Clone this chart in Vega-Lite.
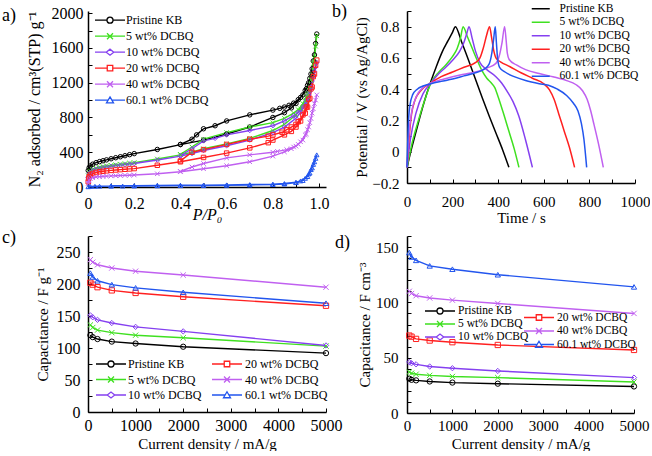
{
"$schema": "https://vega.github.io/schema/vega-lite/v6.json",
"padding": {"left": 2, "top": 2, "right": 0, "bottom": 0},
"config": {
  "font": "Liberation Serif, Times New Roman, serif",
  "view": {"stroke": null},
  "style": {
    "guide-label": {"font": "Liberation Serif, Times New Roman, serif", "fill": "#000", "fontWeight": 400},
    "guide-title": {"font": "Liberation Serif, Times New Roman, serif", "fill": "#000", "fontWeight": 400},
    "group-title": {"font": "Liberation Serif, Times New Roman, serif", "fill": "#000", "fontWeight": 400}
  },
  "axis": {"grid": false, "domainColor": "#000", "domainWidth": 1.5, "tickColor": "#000", "tickSize": -4, "tickWidth": 1, "labelColor": "#000", "titleColor": "#000", "labelFont": "Liberation Serif, Times New Roman, serif", "titleFont": "Liberation Serif, Times New Roman, serif", "titleFontWeight": 400, "labelFontWeight": 400, "labelFlush": false, "labelOverlap": false, "titleBaseline": "alphabetic"},
  "legend": {"labelFont": "Liberation Serif, Times New Roman, serif", "labelFontSize": 12, "labelColor": "#000", "labelFontWeight": 400, "padding": 0},
  "title": {"font": "Liberation Serif, Times New Roman, serif", "fontSize": 18, "fontWeight": 400, "anchor": "start", "frame": "group", "baseline": "alphabetic", "color": "#000"}
},
"datasets": {
"iso": [
{"s":"Pristine KB","p":0.001,"v":190,"o":1},{"s":"Pristine KB","p":0.005,"v":222,"o":2},{"s":"Pristine KB","p":0.01,"v":242,"o":3},{"s":"Pristine KB","p":0.02,"v":262,"o":4},{"s":"Pristine KB","p":0.035,"v":280,"o":5},{"s":"Pristine KB","p":0.05,"v":292,"o":6},{"s":"Pristine KB","p":0.065,"v":302,"o":7},{"s":"Pristine KB","p":0.08,"v":312,"o":8},{"s":"Pristine KB","p":0.1,"v":325,"o":9},{"s":"Pristine KB","p":0.12,"v":337,"o":10},{"s":"Pristine KB","p":0.14,"v":348,"o":11},{"s":"Pristine KB","p":0.16,"v":360,"o":12},{"s":"Pristine KB","p":0.18,"v":372,"o":13},{"s":"Pristine KB","p":0.2,"v":384,"o":14},{"s":"Pristine KB","p":0.3,"v":432,"o":15},{"s":"Pristine KB","p":0.4,"v":488,"o":16},{"s":"Pristine KB","p":0.5,"v":540,"o":17},{"s":"Pristine KB","p":0.6,"v":610,"o":18},{"s":"Pristine KB","p":0.7,"v":690,"o":19},{"s":"Pristine KB","p":0.8,"v":800,"o":20},{"s":"Pristine KB","p":0.85,"v":855,"o":21},{"s":"Pristine KB","p":0.88,"v":910,"o":22},{"s":"Pristine KB","p":0.9,"v":960,"o":23},{"s":"Pristine KB","p":0.92,"v":1030,"o":24},{"s":"Pristine KB","p":0.94,"v":1110,"o":25},{"s":"Pristine KB","p":0.95,"v":1170,"o":26},{"s":"Pristine KB","p":0.96,"v":1250,"o":27},{"s":"Pristine KB","p":0.97,"v":1360,"o":28},{"s":"Pristine KB","p":0.98,"v":1520,"o":29},{"s":"Pristine KB","p":0.99,"v":1760,"o":30},
{"s":"Pristine KB","p":0.985,"v":1650,"o":31},{"s":"Pristine KB","p":0.975,"v":1450,"o":32},{"s":"Pristine KB","p":0.965,"v":1300,"o":33},{"s":"Pristine KB","p":0.955,"v":1200,"o":34},{"s":"Pristine KB","p":0.945,"v":1130,"o":35},{"s":"Pristine KB","p":0.93,"v":1060,"o":36},{"s":"Pristine KB","p":0.91,"v":1005,"o":37},{"s":"Pristine KB","p":0.89,"v":965,"o":38},{"s":"Pristine KB","p":0.87,"v":940,"o":39},{"s":"Pristine KB","p":0.85,"v":920,"o":40},{"s":"Pristine KB","p":0.83,"v":905,"o":41},{"s":"Pristine KB","p":0.8,"v":885,"o":42},{"s":"Pristine KB","p":0.7,"v":830,"o":43},{"s":"Pristine KB","p":0.6,"v":760,"o":44},{"s":"Pristine KB","p":0.55,"v":705,"o":45},{"s":"Pristine KB","p":0.5,"v":670,"o":46},{"s":"Pristine KB","p":0.47,"v":600,"o":47},{"s":"Pristine KB","p":0.45,"v":550,"o":48},{"s":"Pristine KB","p":0.4,"v":490,"o":49},
{"s":"5 wt% DCBQ","p":0.001,"v":130,"o":1},{"s":"5 wt% DCBQ","p":0.005,"v":165,"o":2},{"s":"5 wt% DCBQ","p":0.01,"v":185,"o":3},{"s":"5 wt% DCBQ","p":0.02,"v":203,"o":4},{"s":"5 wt% DCBQ","p":0.035,"v":218,"o":5},{"s":"5 wt% DCBQ","p":0.05,"v":228,"o":6},{"s":"5 wt% DCBQ","p":0.065,"v":236,"o":7},{"s":"5 wt% DCBQ","p":0.08,"v":243,"o":8},{"s":"5 wt% DCBQ","p":0.1,"v":250,"o":9},{"s":"5 wt% DCBQ","p":0.12,"v":257,"o":10},{"s":"5 wt% DCBQ","p":0.14,"v":263,"o":11},{"s":"5 wt% DCBQ","p":0.16,"v":269,"o":12},{"s":"5 wt% DCBQ","p":0.18,"v":275,"o":13},{"s":"5 wt% DCBQ","p":0.2,"v":281,"o":14},{"s":"5 wt% DCBQ","p":0.3,"v":322,"o":15},{"s":"5 wt% DCBQ","p":0.4,"v":370,"o":16},{"s":"5 wt% DCBQ","p":0.45,"v":400,"o":17},{"s":"5 wt% DCBQ","p":0.5,"v":440,"o":18},{"s":"5 wt% DCBQ","p":0.6,"v":495,"o":19},{"s":"5 wt% DCBQ","p":0.7,"v":560,"o":20},{"s":"5 wt% DCBQ","p":0.8,"v":650,"o":21},{"s":"5 wt% DCBQ","p":0.85,"v":720,"o":22},{"s":"5 wt% DCBQ","p":0.9,"v":830,"o":23},{"s":"5 wt% DCBQ","p":0.92,"v":900,"o":24},{"s":"5 wt% DCBQ","p":0.94,"v":990,"o":25},{"s":"5 wt% DCBQ","p":0.95,"v":1060,"o":26},{"s":"5 wt% DCBQ","p":0.96,"v":1150,"o":27},{"s":"5 wt% DCBQ","p":0.97,"v":1300,"o":28},{"s":"5 wt% DCBQ","p":0.98,"v":1480,"o":29},{"s":"5 wt% DCBQ","p":0.99,"v":1740,"o":30},
{"s":"5 wt% DCBQ","p":0.985,"v":1620,"o":31},{"s":"5 wt% DCBQ","p":0.975,"v":1420,"o":32},{"s":"5 wt% DCBQ","p":0.965,"v":1230,"o":33},{"s":"5 wt% DCBQ","p":0.955,"v":1120,"o":34},{"s":"5 wt% DCBQ","p":0.945,"v":1040,"o":35},{"s":"5 wt% DCBQ","p":0.93,"v":960,"o":36},{"s":"5 wt% DCBQ","p":0.91,"v":890,"o":37},{"s":"5 wt% DCBQ","p":0.89,"v":850,"o":38},{"s":"5 wt% DCBQ","p":0.85,"v":790,"o":39},{"s":"5 wt% DCBQ","p":0.8,"v":740,"o":40},{"s":"5 wt% DCBQ","p":0.7,"v":690,"o":41},{"s":"5 wt% DCBQ","p":0.6,"v":625,"o":42},{"s":"5 wt% DCBQ","p":0.5,"v":550,"o":43},{"s":"5 wt% DCBQ","p":0.45,"v":460,"o":44},{"s":"5 wt% DCBQ","p":0.4,"v":375,"o":45},
{"s":"10 wt% DCBQ","p":0.001,"v":110,"o":1},{"s":"10 wt% DCBQ","p":0.005,"v":150,"o":2},{"s":"10 wt% DCBQ","p":0.01,"v":170,"o":3},{"s":"10 wt% DCBQ","p":0.02,"v":190,"o":4},{"s":"10 wt% DCBQ","p":0.035,"v":205,"o":5},{"s":"10 wt% DCBQ","p":0.05,"v":215,"o":6},{"s":"10 wt% DCBQ","p":0.065,"v":223,"o":7},{"s":"10 wt% DCBQ","p":0.08,"v":230,"o":8},{"s":"10 wt% DCBQ","p":0.1,"v":238,"o":9},{"s":"10 wt% DCBQ","p":0.12,"v":245,"o":10},{"s":"10 wt% DCBQ","p":0.14,"v":252,"o":11},{"s":"10 wt% DCBQ","p":0.16,"v":258,"o":12},{"s":"10 wt% DCBQ","p":0.18,"v":264,"o":13},{"s":"10 wt% DCBQ","p":0.2,"v":270,"o":14},{"s":"10 wt% DCBQ","p":0.3,"v":310,"o":15},{"s":"10 wt% DCBQ","p":0.4,"v":355,"o":16},{"s":"10 wt% DCBQ","p":0.45,"v":385,"o":17},{"s":"10 wt% DCBQ","p":0.5,"v":420,"o":18},{"s":"10 wt% DCBQ","p":0.6,"v":475,"o":19},{"s":"10 wt% DCBQ","p":0.7,"v":540,"o":20},{"s":"10 wt% DCBQ","p":0.8,"v":625,"o":21},{"s":"10 wt% DCBQ","p":0.85,"v":690,"o":22},{"s":"10 wt% DCBQ","p":0.9,"v":790,"o":23},{"s":"10 wt% DCBQ","p":0.92,"v":860,"o":24},{"s":"10 wt% DCBQ","p":0.94,"v":950,"o":25},{"s":"10 wt% DCBQ","p":0.95,"v":1020,"o":26},{"s":"10 wt% DCBQ","p":0.96,"v":1100,"o":27},{"s":"10 wt% DCBQ","p":0.97,"v":1220,"o":28},{"s":"10 wt% DCBQ","p":0.98,"v":1330,"o":29},{"s":"10 wt% DCBQ","p":0.99,"v":1430,"o":30},
{"s":"10 wt% DCBQ","p":0.985,"v":1380,"o":31},{"s":"10 wt% DCBQ","p":0.975,"v":1270,"o":32},{"s":"10 wt% DCBQ","p":0.965,"v":1150,"o":33},{"s":"10 wt% DCBQ","p":0.955,"v":1060,"o":34},{"s":"10 wt% DCBQ","p":0.945,"v":990,"o":35},{"s":"10 wt% DCBQ","p":0.93,"v":920,"o":36},{"s":"10 wt% DCBQ","p":0.91,"v":860,"o":37},{"s":"10 wt% DCBQ","p":0.89,"v":820,"o":38},{"s":"10 wt% DCBQ","p":0.85,"v":760,"o":39},{"s":"10 wt% DCBQ","p":0.8,"v":705,"o":40},{"s":"10 wt% DCBQ","p":0.7,"v":650,"o":41},{"s":"10 wt% DCBQ","p":0.6,"v":600,"o":42},{"s":"10 wt% DCBQ","p":0.55,"v":560,"o":43},{"s":"10 wt% DCBQ","p":0.5,"v":530,"o":44},{"s":"10 wt% DCBQ","p":0.45,"v":440,"o":45},{"s":"10 wt% DCBQ","p":0.4,"v":360,"o":46},
{"s":"20 wt% DCBQ","p":0.001,"v":60,"o":1},{"s":"20 wt% DCBQ","p":0.003,"v":100,"o":2},{"s":"20 wt% DCBQ","p":0.005,"v":118,"o":3},{"s":"20 wt% DCBQ","p":0.01,"v":138,"o":4},{"s":"20 wt% DCBQ","p":0.02,"v":155,"o":5},{"s":"20 wt% DCBQ","p":0.035,"v":167,"o":6},{"s":"20 wt% DCBQ","p":0.05,"v":175,"o":7},{"s":"20 wt% DCBQ","p":0.065,"v":181,"o":8},{"s":"20 wt% DCBQ","p":0.08,"v":186,"o":9},{"s":"20 wt% DCBQ","p":0.1,"v":191,"o":10},{"s":"20 wt% DCBQ","p":0.12,"v":196,"o":11},{"s":"20 wt% DCBQ","p":0.14,"v":200,"o":12},{"s":"20 wt% DCBQ","p":0.16,"v":204,"o":13},{"s":"20 wt% DCBQ","p":0.18,"v":208,"o":14},{"s":"20 wt% DCBQ","p":0.2,"v":212,"o":15},{"s":"20 wt% DCBQ","p":0.3,"v":250,"o":16},{"s":"20 wt% DCBQ","p":0.4,"v":290,"o":17},{"s":"20 wt% DCBQ","p":0.5,"v":340,"o":18},{"s":"20 wt% DCBQ","p":0.6,"v":390,"o":19},{"s":"20 wt% DCBQ","p":0.7,"v":450,"o":20},{"s":"20 wt% DCBQ","p":0.78,"v":510,"o":21},{"s":"20 wt% DCBQ","p":0.8,"v":540,"o":22},{"s":"20 wt% DCBQ","p":0.85,"v":600,"o":23},{"s":"20 wt% DCBQ","p":0.88,"v":640,"o":24},{"s":"20 wt% DCBQ","p":0.9,"v":690,"o":25},{"s":"20 wt% DCBQ","p":0.92,"v":760,"o":26},{"s":"20 wt% DCBQ","p":0.94,"v":850,"o":27},{"s":"20 wt% DCBQ","p":0.95,"v":920,"o":28},{"s":"20 wt% DCBQ","p":0.96,"v":1020,"o":29},{"s":"20 wt% DCBQ","p":0.97,"v":1150,"o":30},{"s":"20 wt% DCBQ","p":0.98,"v":1300,"o":31},{"s":"20 wt% DCBQ","p":0.99,"v":1460,"o":32},
{"s":"20 wt% DCBQ","p":0.985,"v":1400,"o":33},{"s":"20 wt% DCBQ","p":0.975,"v":1270,"o":34},{"s":"20 wt% DCBQ","p":0.965,"v":1130,"o":35},{"s":"20 wt% DCBQ","p":0.955,"v":1010,"o":36},{"s":"20 wt% DCBQ","p":0.945,"v":920,"o":37},{"s":"20 wt% DCBQ","p":0.93,"v":830,"o":38},{"s":"20 wt% DCBQ","p":0.91,"v":750,"o":39},{"s":"20 wt% DCBQ","p":0.9,"v":720,"o":40},{"s":"20 wt% DCBQ","p":0.88,"v":690,"o":41},{"s":"20 wt% DCBQ","p":0.86,"v":660,"o":42},{"s":"20 wt% DCBQ","p":0.84,"v":630,"o":43},{"s":"20 wt% DCBQ","p":0.8,"v":600,"o":44},{"s":"20 wt% DCBQ","p":0.78,"v":585,"o":45},{"s":"20 wt% DCBQ","p":0.7,"v":550,"o":46},{"s":"20 wt% DCBQ","p":0.6,"v":490,"o":47},{"s":"20 wt% DCBQ","p":0.5,"v":430,"o":48},{"s":"20 wt% DCBQ","p":0.45,"v":400,"o":49},{"s":"20 wt% DCBQ","p":0.4,"v":300,"o":50},
{"s":"40 wt% DCBQ","p":0.001,"v":40,"o":1},{"s":"40 wt% DCBQ","p":0.003,"v":70,"o":2},{"s":"40 wt% DCBQ","p":0.005,"v":82,"o":3},{"s":"40 wt% DCBQ","p":0.01,"v":97,"o":4},{"s":"40 wt% DCBQ","p":0.02,"v":108,"o":5},{"s":"40 wt% DCBQ","p":0.035,"v":115,"o":6},{"s":"40 wt% DCBQ","p":0.05,"v":119,"o":7},{"s":"40 wt% DCBQ","p":0.065,"v":122,"o":8},{"s":"40 wt% DCBQ","p":0.08,"v":125,"o":9},{"s":"40 wt% DCBQ","p":0.1,"v":128,"o":10},{"s":"40 wt% DCBQ","p":0.12,"v":130,"o":11},{"s":"40 wt% DCBQ","p":0.14,"v":132,"o":12},{"s":"40 wt% DCBQ","p":0.16,"v":134,"o":13},{"s":"40 wt% DCBQ","p":0.18,"v":136,"o":14},{"s":"40 wt% DCBQ","p":0.2,"v":138,"o":15},{"s":"40 wt% DCBQ","p":0.3,"v":152,"o":16},{"s":"40 wt% DCBQ","p":0.4,"v":175,"o":17},{"s":"40 wt% DCBQ","p":0.5,"v":210,"o":18},{"s":"40 wt% DCBQ","p":0.6,"v":245,"o":19},{"s":"40 wt% DCBQ","p":0.7,"v":290,"o":20},{"s":"40 wt% DCBQ","p":0.8,"v":355,"o":21},{"s":"40 wt% DCBQ","p":0.85,"v":405,"o":22},{"s":"40 wt% DCBQ","p":0.88,"v":440,"o":23},{"s":"40 wt% DCBQ","p":0.9,"v":470,"o":24},{"s":"40 wt% DCBQ","p":0.92,"v":520,"o":25},{"s":"40 wt% DCBQ","p":0.94,"v":600,"o":26},{"s":"40 wt% DCBQ","p":0.95,"v":660,"o":27},{"s":"40 wt% DCBQ","p":0.96,"v":740,"o":28},{"s":"40 wt% DCBQ","p":0.97,"v":850,"o":29},{"s":"40 wt% DCBQ","p":0.98,"v":960,"o":30},{"s":"40 wt% DCBQ","p":0.99,"v":1060,"o":31},
{"s":"40 wt% DCBQ","p":0.985,"v":1000,"o":32},{"s":"40 wt% DCBQ","p":0.975,"v":900,"o":33},{"s":"40 wt% DCBQ","p":0.965,"v":790,"o":34},{"s":"40 wt% DCBQ","p":0.955,"v":690,"o":35},{"s":"40 wt% DCBQ","p":0.945,"v":610,"o":36},{"s":"40 wt% DCBQ","p":0.93,"v":540,"o":37},{"s":"40 wt% DCBQ","p":0.91,"v":490,"o":38},{"s":"40 wt% DCBQ","p":0.89,"v":460,"o":39},{"s":"40 wt% DCBQ","p":0.86,"v":430,"o":40},{"s":"40 wt% DCBQ","p":0.82,"v":410,"o":41},{"s":"40 wt% DCBQ","p":0.8,"v":400,"o":42},{"s":"40 wt% DCBQ","p":0.7,"v":370,"o":43},{"s":"40 wt% DCBQ","p":0.6,"v":335,"o":44},{"s":"40 wt% DCBQ","p":0.5,"v":270,"o":45},{"s":"40 wt% DCBQ","p":0.45,"v":230,"o":46},{"s":"40 wt% DCBQ","p":0.4,"v":180,"o":47},
{"s":"60.1 wt% DCBQ","p":0.001,"v":3,"o":1},{"s":"60.1 wt% DCBQ","p":0.01,"v":6,"o":2},{"s":"60.1 wt% DCBQ","p":0.03,"v":8,"o":3},{"s":"60.1 wt% DCBQ","p":0.05,"v":9,"o":4},{"s":"60.1 wt% DCBQ","p":0.1,"v":10,"o":5},{"s":"60.1 wt% DCBQ","p":0.15,"v":11,"o":6},{"s":"60.1 wt% DCBQ","p":0.2,"v":12,"o":7},{"s":"60.1 wt% DCBQ","p":0.3,"v":14,"o":8},{"s":"60.1 wt% DCBQ","p":0.4,"v":16,"o":9},{"s":"60.1 wt% DCBQ","p":0.5,"v":18,"o":10},{"s":"60.1 wt% DCBQ","p":0.6,"v":20,"o":11},{"s":"60.1 wt% DCBQ","p":0.7,"v":23,"o":12},{"s":"60.1 wt% DCBQ","p":0.8,"v":28,"o":13},{"s":"60.1 wt% DCBQ","p":0.85,"v":34,"o":14},{"s":"60.1 wt% DCBQ","p":0.9,"v":50,"o":15},{"s":"60.1 wt% DCBQ","p":0.93,"v":75,"o":16},{"s":"60.1 wt% DCBQ","p":0.95,"v":120,"o":17},{"s":"60.1 wt% DCBQ","p":0.96,"v":160,"o":18},{"s":"60.1 wt% DCBQ","p":0.97,"v":220,"o":19},{"s":"60.1 wt% DCBQ","p":0.98,"v":290,"o":20},{"s":"60.1 wt% DCBQ","p":0.99,"v":370,"o":21},
{"s":"60.1 wt% DCBQ","p":0.985,"v":330,"o":22},{"s":"60.1 wt% DCBQ","p":0.975,"v":260,"o":23},{"s":"60.1 wt% DCBQ","p":0.965,"v":200,"o":24},{"s":"60.1 wt% DCBQ","p":0.955,"v":150,"o":25},{"s":"60.1 wt% DCBQ","p":0.94,"v":100,"o":26},{"s":"60.1 wt% DCBQ","p":0.92,"v":70,"o":27},{"s":"60.1 wt% DCBQ","p":0.9,"v":55,"o":28},{"s":"60.1 wt% DCBQ","p":0.85,"v":40,"o":29},{"s":"60.1 wt% DCBQ","p":0.8,"v":33,"o":30},{"s":"60.1 wt% DCBQ","p":0.7,"v":28,"o":31},{"s":"60.1 wt% DCBQ","p":0.6,"v":25,"o":32},{"s":"60.1 wt% DCBQ","p":0.5,"v":22,"o":33},{"s":"60.1 wt% DCBQ","p":0.4,"v":20,"o":34},{"s":"60.1 wt% DCBQ","p":0.3,"v":18,"o":35},{"s":"60.1 wt% DCBQ","p":0.2,"v":16,"o":36},{"s":"60.1 wt% DCBQ","p":0.1,"v":14,"o":37}
],
"gcd": [
{"s":"Pristine KB","t":0,"V":-0.1},{"s":"Pristine KB","t":20,"V":0.02},{"s":"Pristine KB","t":40,"V":0.13},{"s":"Pristine KB","t":60,"V":0.24},{"s":"Pristine KB","t":80,"V":0.34},{"s":"Pristine KB","t":105,"V":0.45},{"s":"Pristine KB","t":130,"V":0.55},{"s":"Pristine KB","t":155,"V":0.64},{"s":"Pristine KB","t":180,"V":0.71},{"s":"Pristine KB","t":200,"V":0.765},{"s":"Pristine KB","t":212,"V":0.8},{"s":"Pristine KB","t":240,"V":0.7},{"s":"Pristine KB","t":270,"V":0.585},{"s":"Pristine KB","t":300,"V":0.465},{"s":"Pristine KB","t":330,"V":0.345},{"s":"Pristine KB","t":360,"V":0.23},{"s":"Pristine KB","t":390,"V":0.12},{"s":"Pristine KB","t":420,"V":0.01},{"s":"Pristine KB","t":447,"V":-0.1},
{"s":"5 wt% DCBQ","t":0,"V":-0.1},{"s":"5 wt% DCBQ","t":20,"V":0.04},{"s":"5 wt% DCBQ","t":50,"V":0.2},{"s":"5 wt% DCBQ","t":80,"V":0.34},{"s":"5 wt% DCBQ","t":105,"V":0.44},{"s":"5 wt% DCBQ","t":140,"V":0.51},{"s":"5 wt% DCBQ","t":170,"V":0.555},{"s":"5 wt% DCBQ","t":200,"V":0.61},{"s":"5 wt% DCBQ","t":220,"V":0.66},{"s":"5 wt% DCBQ","t":235,"V":0.73},{"s":"5 wt% DCBQ","t":246,"V":0.8},{"s":"5 wt% DCBQ","t":265,"V":0.735},{"s":"5 wt% DCBQ","t":285,"V":0.665},{"s":"5 wt% DCBQ","t":305,"V":0.595},{"s":"5 wt% DCBQ","t":330,"V":0.515},{"s":"5 wt% DCBQ","t":350,"V":0.47},{"s":"5 wt% DCBQ","t":370,"V":0.44},{"s":"5 wt% DCBQ","t":385,"V":0.41},{"s":"5 wt% DCBQ","t":400,"V":0.35},{"s":"5 wt% DCBQ","t":420,"V":0.26},{"s":"5 wt% DCBQ","t":445,"V":0.14},{"s":"5 wt% DCBQ","t":470,"V":0.02},{"s":"5 wt% DCBQ","t":491,"V":-0.1},
{"s":"10 wt% DCBQ","t":0,"V":-0.1},{"s":"10 wt% DCBQ","t":15,"V":0.08},{"s":"10 wt% DCBQ","t":40,"V":0.25},{"s":"10 wt% DCBQ","t":70,"V":0.37},{"s":"10 wt% DCBQ","t":105,"V":0.44},{"s":"10 wt% DCBQ","t":140,"V":0.5},{"s":"10 wt% DCBQ","t":170,"V":0.54},{"s":"10 wt% DCBQ","t":200,"V":0.585},{"s":"10 wt% DCBQ","t":230,"V":0.64},{"s":"10 wt% DCBQ","t":250,"V":0.7},{"s":"10 wt% DCBQ","t":262,"V":0.755},{"s":"10 wt% DCBQ","t":272,"V":0.8},{"s":"10 wt% DCBQ","t":285,"V":0.73},{"s":"10 wt% DCBQ","t":300,"V":0.645},{"s":"10 wt% DCBQ","t":320,"V":0.57},{"s":"10 wt% DCBQ","t":350,"V":0.525},{"s":"10 wt% DCBQ","t":390,"V":0.48},{"s":"10 wt% DCBQ","t":415,"V":0.44},{"s":"10 wt% DCBQ","t":440,"V":0.385},{"s":"10 wt% DCBQ","t":465,"V":0.32},{"s":"10 wt% DCBQ","t":490,"V":0.23},{"s":"10 wt% DCBQ","t":520,"V":0.075},{"s":"10 wt% DCBQ","t":550,"V":-0.1},
{"s":"20 wt% DCBQ","t":0,"V":-0.1},{"s":"20 wt% DCBQ","t":10,"V":0.1},{"s":"20 wt% DCBQ","t":20,"V":0.24},{"s":"20 wt% DCBQ","t":35,"V":0.33},{"s":"20 wt% DCBQ","t":60,"V":0.39},{"s":"20 wt% DCBQ","t":105,"V":0.44},{"s":"20 wt% DCBQ","t":150,"V":0.48},{"s":"20 wt% DCBQ","t":200,"V":0.51},{"s":"20 wt% DCBQ","t":250,"V":0.54},{"s":"20 wt% DCBQ","t":300,"V":0.57},{"s":"20 wt% DCBQ","t":320,"V":0.6},{"s":"20 wt% DCBQ","t":335,"V":0.665},{"s":"20 wt% DCBQ","t":350,"V":0.75},{"s":"20 wt% DCBQ","t":362,"V":0.8},{"s":"20 wt% DCBQ","t":370,"V":0.74},{"s":"20 wt% DCBQ","t":380,"V":0.65},{"s":"20 wt% DCBQ","t":392,"V":0.595},{"s":"20 wt% DCBQ","t":410,"V":0.575},{"s":"20 wt% DCBQ","t":450,"V":0.545},{"s":"20 wt% DCBQ","t":500,"V":0.505},{"s":"20 wt% DCBQ","t":550,"V":0.47},{"s":"20 wt% DCBQ","t":600,"V":0.435},{"s":"20 wt% DCBQ","t":625,"V":0.395},{"s":"20 wt% DCBQ","t":645,"V":0.335},{"s":"20 wt% DCBQ","t":665,"V":0.245},{"s":"20 wt% DCBQ","t":690,"V":0.13},{"s":"20 wt% DCBQ","t":712,"V":0.03},{"s":"20 wt% DCBQ","t":735,"V":-0.1},
{"s":"40 wt% DCBQ","t":0,"V":-0.1},{"s":"40 wt% DCBQ","t":8,"V":0.1},{"s":"40 wt% DCBQ","t":20,"V":0.25},{"s":"40 wt% DCBQ","t":40,"V":0.35},{"s":"40 wt% DCBQ","t":70,"V":0.41},{"s":"40 wt% DCBQ","t":105,"V":0.44},{"s":"40 wt% DCBQ","t":150,"V":0.46},{"s":"40 wt% DCBQ","t":200,"V":0.48},{"s":"40 wt% DCBQ","t":250,"V":0.495},{"s":"40 wt% DCBQ","t":300,"V":0.51},{"s":"40 wt% DCBQ","t":350,"V":0.535},{"s":"40 wt% DCBQ","t":390,"V":0.565},{"s":"40 wt% DCBQ","t":405,"V":0.615},{"s":"40 wt% DCBQ","t":417,"V":0.7},{"s":"40 wt% DCBQ","t":428,"V":0.8},{"s":"40 wt% DCBQ","t":435,"V":0.71},{"s":"40 wt% DCBQ","t":440,"V":0.63},{"s":"40 wt% DCBQ","t":448,"V":0.59},{"s":"40 wt% DCBQ","t":480,"V":0.555},{"s":"40 wt% DCBQ","t":520,"V":0.525},{"s":"40 wt% DCBQ","t":580,"V":0.5},{"s":"40 wt% DCBQ","t":640,"V":0.48},{"s":"40 wt% DCBQ","t":700,"V":0.455},{"s":"40 wt% DCBQ","t":740,"V":0.43},{"s":"40 wt% DCBQ","t":770,"V":0.39},{"s":"40 wt% DCBQ","t":790,"V":0.335},{"s":"40 wt% DCBQ","t":805,"V":0.265},{"s":"40 wt% DCBQ","t":820,"V":0.175},{"s":"40 wt% DCBQ","t":840,"V":0.05},{"s":"40 wt% DCBQ","t":861,"V":-0.1},
{"s":"60.1 wt% DCBQ","t":0,"V":-0.1},{"s":"60.1 wt% DCBQ","t":5,"V":0.15},{"s":"60.1 wt% DCBQ","t":12,"V":0.29},{"s":"60.1 wt% DCBQ","t":25,"V":0.365},{"s":"60.1 wt% DCBQ","t":45,"V":0.4},{"s":"60.1 wt% DCBQ","t":70,"V":0.42},{"s":"60.1 wt% DCBQ","t":105,"V":0.435},{"s":"60.1 wt% DCBQ","t":150,"V":0.45},{"s":"60.1 wt% DCBQ","t":200,"V":0.465},{"s":"60.1 wt% DCBQ","t":250,"V":0.485},{"s":"60.1 wt% DCBQ","t":300,"V":0.505},{"s":"60.1 wt% DCBQ","t":340,"V":0.53},{"s":"60.1 wt% DCBQ","t":360,"V":0.56},{"s":"60.1 wt% DCBQ","t":372,"V":0.63},{"s":"60.1 wt% DCBQ","t":380,"V":0.72},{"s":"60.1 wt% DCBQ","t":387,"V":0.8},{"s":"60.1 wt% DCBQ","t":392,"V":0.7},{"s":"60.1 wt% DCBQ","t":397,"V":0.6},{"s":"60.1 wt% DCBQ","t":406,"V":0.54},{"s":"60.1 wt% DCBQ","t":430,"V":0.51},{"s":"60.1 wt% DCBQ","t":470,"V":0.48},{"s":"60.1 wt% DCBQ","t":520,"V":0.455},{"s":"60.1 wt% DCBQ","t":580,"V":0.435},{"s":"60.1 wt% DCBQ","t":620,"V":0.425},{"s":"60.1 wt% DCBQ","t":660,"V":0.4},{"s":"60.1 wt% DCBQ","t":700,"V":0.36},{"s":"60.1 wt% DCBQ","t":730,"V":0.31},{"s":"60.1 wt% DCBQ","t":750,"V":0.26},{"s":"60.1 wt% DCBQ","t":765,"V":0.18},{"s":"60.1 wt% DCBQ","t":776,"V":0.08},{"s":"60.1 wt% DCBQ","t":788,"V":-0.1}
],
"cap": [
{"s":"Pristine KB","j":50,"g":120,"v":31},{"s":"Pristine KB","j":100,"g":117,"v":30},{"s":"Pristine KB","j":200,"g":114,"v":29.5},{"s":"Pristine KB","j":500,"g":110,"v":28.5},{"s":"Pristine KB","j":1000,"g":107,"v":27.5},{"s":"Pristine KB","j":2000,"g":102,"v":26.5},{"s":"Pristine KB","j":5000,"g":92,"v":24},
{"s":"5 wt% DCBQ","j":50,"g":136,"v":37},{"s":"5 wt% DCBQ","j":100,"g":132,"v":36},{"s":"5 wt% DCBQ","j":200,"g":128,"v":35},{"s":"5 wt% DCBQ","j":500,"g":124,"v":34},{"s":"5 wt% DCBQ","j":1000,"g":120,"v":33},{"s":"5 wt% DCBQ","j":2000,"g":116,"v":32},{"s":"5 wt% DCBQ","j":5000,"g":103,"v":28},
{"s":"10 wt% DCBQ","j":50,"g":151,"v":46},{"s":"10 wt% DCBQ","j":100,"g":148,"v":45},{"s":"10 wt% DCBQ","j":200,"g":144,"v":44},{"s":"10 wt% DCBQ","j":500,"g":139,"v":42},{"s":"10 wt% DCBQ","j":1000,"g":133,"v":40.5},{"s":"10 wt% DCBQ","j":2000,"g":126,"v":38},{"s":"10 wt% DCBQ","j":5000,"g":104,"v":32},
{"s":"20 wt% DCBQ","j":50,"g":202,"v":70},{"s":"20 wt% DCBQ","j":100,"g":199,"v":69},{"s":"20 wt% DCBQ","j":200,"g":195,"v":67},{"s":"20 wt% DCBQ","j":500,"g":190,"v":65.5},{"s":"20 wt% DCBQ","j":1000,"g":186,"v":64},{"s":"20 wt% DCBQ","j":2000,"g":180,"v":61.5},{"s":"20 wt% DCBQ","j":5000,"g":166,"v":57},
{"s":"40 wt% DCBQ","j":50,"g":238,"v":110},{"s":"40 wt% DCBQ","j":100,"g":234,"v":108},{"s":"40 wt% DCBQ","j":200,"g":230,"v":106},{"s":"40 wt% DCBQ","j":500,"g":225,"v":104},{"s":"40 wt% DCBQ","j":1000,"g":220,"v":102},{"s":"40 wt% DCBQ","j":2000,"g":214,"v":99},{"s":"40 wt% DCBQ","j":5000,"g":195,"v":90},
{"s":"60.1 wt% DCBQ","j":50,"g":217,"v":145},{"s":"60.1 wt% DCBQ","j":100,"g":211,"v":141},{"s":"60.1 wt% DCBQ","j":200,"g":205,"v":138},{"s":"60.1 wt% DCBQ","j":500,"g":199,"v":133},{"s":"60.1 wt% DCBQ","j":1000,"g":194,"v":130},{"s":"60.1 wt% DCBQ","j":2000,"g":187,"v":125},{"s":"60.1 wt% DCBQ","j":5000,"g":170,"v":114}
]
},
"columns": 2,
"spacing": {"row": 49, "column": 81},
"bounds": "flush",
"resolve": {"scale": {"color": "independent", "shape": "independent"}, "legend": {"color": "independent", "shape": "independent"}},
"concat": [
{
  "width": 238, "height": 176,
  "title": {"text": "a)", "dx": -86, "offset": -19.8},
  "data": {"name": "iso"},
  "encoding": {
    "x": {"field": "p", "type": "quantitative", "scale": {"domain": [0, 1.03], "nice": false, "zero": false},
      "axis": {"title": "P/P₀", "titleFontStyle": "italic", "titleFontWeight": 400, "titleY": 32, "values": [0,0.1,0.2,0.3,0.4,0.5,0.6,0.7,0.8,0.9,1], "labelExpr": "round(datum.value*10) % 2 === 0 ? (datum.value === 0 ? '0' : format(datum.value, '.1f')) : ''", "labelFontSize": 16, "titleFontSize": 16, "labelPadding": 12}},
    "y": {"field": "v", "type": "quantitative", "scale": {"domain": [0, 2025], "nice": false},
      "axis": {"title": "N₂ adsorbed / cm³(STP) g⁻¹", "titleFontWeight": 400, "values": [0,200,400,600,800,1000,1200,1400,1600,1800,2000], "labelExpr": "datum.value % 400 === 0 ? format(datum.value, 'd') : ''", "labelFontSize": 16, "titleFontSize": 16, "labelPadding": 9, "titlePadding": 12}},
    "order": {"field": "o", "type": "quantitative"}
  },
  "layer": [
    {
      "mark": {"type": "line", "strokeWidth": 1.4},
      "encoding": {
        "color": {
          "field": "s", "type": "nominal",
          "scale": {"domain": ["Pristine KB","5 wt% DCBQ","10 wt% DCBQ","20 wt% DCBQ","40 wt% DCBQ","60.1 wt% DCBQ"], "range": ["#000000","#3fe020","#8540f0","#ff2020","#c060f0","#2255ee"]},
          "legend": {
            "title": null, "orient": "none", "legendX": 7, "legendY": 3.2, "symbolSize": 100, "symbolStrokeWidth": 1.3, "symbolOffset": 9, "labelOffset": 10, "rowPadding": 4, "labelFontSize": 12,
            "encode": {"symbols": {"update": {"fill": {"value": "transparent"}, "shape": {"signal": "datum.value === 'Pristine KB' ? 'M-3,0H-0.6M0.6,0H3M-0.6,0A0.6,0.6 0 1,0 0.6,0A0.6,0.6 0 1,0 -0.6,0' : (datum.value === '5 wt% DCBQ' || datum.value === '40 wt% DCBQ') ? 'M-3,0H3M-0.6,-0.6L0.6,0.6M-0.6,0.6L0.6,-0.6' : datum.value === '10 wt% DCBQ' ? 'M-3,0H-0.75M0.75,0H3M-0.75,0L0,-0.6L0.75,0L0,0.6Z' : datum.value === '20 wt% DCBQ' ? 'M-3,0H-0.55M0.55,0H3M-0.55,-0.55H0.55V0.55H-0.55Z' : 'M-3,0H-0.45M0.45,0H3M0,-0.65L0.7,0.55H-0.7Z'"}}}}
          }
        }
      }
    },
    {
      "mark": {"type": "point", "filled": false, "size": 20, "strokeWidth": 1, "opacity": 1},
      "encoding": {
        "color": {"field": "s", "type": "nominal", "scale": {"domain": ["Pristine KB","5 wt% DCBQ","10 wt% DCBQ","20 wt% DCBQ","40 wt% DCBQ","60.1 wt% DCBQ"], "range": ["#000000","#3fe020","#8540f0","#ff2020","#c060f0","#2255ee"]}, "legend": null},
        "shape": {"field": "s", "type": "nominal", "scale": {"domain": ["Pristine KB","5 wt% DCBQ","10 wt% DCBQ","20 wt% DCBQ","40 wt% DCBQ","60.1 wt% DCBQ"], "range": ["circle","M-1,-1L1,1M-1,1L1,-1","diamond","square","M-1,-1L1,1M-1,1L1,-1","triangle-up"]}, "legend": null}
      }
    }
  ],
  "resolve": {"scale": {"color": "independent", "shape": "independent"}}
},
{
  "width": 228, "height": 172,
  "title": {"text": "b)", "dx": -75, "offset": -17.5},
  "data": {"name": "gcd"},
  "mark": {"type": "line", "strokeWidth": 1.5, "interpolate": "monotone"},
  "encoding": {
    "x": {"field": "t", "type": "quantitative", "scale": {"domain": [0, 1000], "nice": false},
      "axis": {"title": "Time / s", "titleFontWeight": 400, "titleY": 39.5, "values": [0,100,200,300,400,500,600,700,800,900,1000], "labelExpr": "datum.value % 200 === 0 ? format(datum.value, 'd') : ''", "labelFontSize": 15, "titleFontSize": 15, "labelPadding": 15}},
    "y": {"field": "V", "type": "quantitative", "scale": {"domain": [-0.2, 0.9], "nice": false, "zero": false},
      "axis": {"title": "Potential / V (vs Ag/AgCl)", "titleFontWeight": 400, "values": [-0.2,-0.1,0,0.1,0.2,0.3,0.4,0.5,0.6,0.7,0.8,0.9], "labelExpr": "round(datum.value*10) % 2 === 0 ? (abs(datum.value) < 0.001 ? '0' : format(datum.value, '.1f')) : ''", "labelFontSize": 15, "titleFontSize": 15, "labelPadding": 12, "titlePadding": 5}},
    "color": {
      "field": "s", "type": "nominal",
      "scale": {"domain": ["Pristine KB","5 wt% DCBQ","10 wt% DCBQ","20 wt% DCBQ","40 wt% DCBQ","60.1 wt% DCBQ"], "range": ["#000000","#3fe020","#8540f0","#ff2020","#c060f0","#2255ee"]},
      "legend": {"title": null, "orient": "none", "legendX": 123, "legendY": -8, "symbolType": "M-3,0H3", "symbolSize": 36, "symbolStrokeWidth": 1.5, "symbolOffset": 5, "labelOffset": 13, "rowPadding": 0.5, "labelFontSize": 11.5}
    }
  }
},
{
  "width": 238, "height": 176,
  "title": {"text": "c)", "dx": -86, "offset": -19},
  "data": {"name": "cap"},
  "encoding": {
    "x": {"field": "j", "type": "quantitative", "scale": {"domain": [0, 5000], "nice": false},
      "axis": {"title": "Current density / mA/g", "titleFontWeight": 400, "titleY": 36, "values": [0,500,1000,1500,2000,2500,3000,3500,4000,4500,5000], "labelExpr": "datum.value % 1000 === 0 ? format(datum.value, 'd') : ''", "labelFontSize": 16, "titleFontSize": 15, "labelPadding": 9}},
    "y": {"field": "g", "type": "quantitative", "scale": {"domain": [0, 275], "nice": false},
      "axis": {"title": "Capacitance / F g⁻¹", "titleFontWeight": 400, "values": [0,25,50,75,100,125,150,175,200,225,250,275], "labelExpr": "datum.value % 50 === 0 ? format(datum.value, 'd') : ''", "labelFontSize": 16, "titleFontSize": 15, "labelPadding": 12, "titlePadding": 9}}
  },
  "layer": [
    {
      "transform": [{"filter": {"field": "s", "oneOf": ["Pristine KB","5 wt% DCBQ","10 wt% DCBQ"]}}],
      "mark": {"type": "line", "strokeWidth": 1.4},
      "encoding": {
        "color": {
          "field": "s", "type": "nominal",
          "scale": {"domain": ["Pristine KB","5 wt% DCBQ","10 wt% DCBQ"], "range": ["#000000","#3fe020","#8540f0"]},
          "legend": {
            "title": null, "orient": "none", "legendX": 8, "legendY": 122, "symbolSize": 100, "symbolStrokeWidth": 1.3, "symbolOffset": 9, "labelOffset": 11, "rowPadding": 3.5, "labelFontSize": 12,
            "encode": {"symbols": {"update": {"fill": {"value": "transparent"}, "shape": {"signal": "datum.value === 'Pristine KB' ? 'M-3,0H-0.6M0.6,0H3M-0.6,0A0.6,0.6 0 1,0 0.6,0A0.6,0.6 0 1,0 -0.6,0' : datum.value === '5 wt% DCBQ' ? 'M-3,0H3M-0.6,-0.6L0.6,0.6M-0.6,0.6L0.6,-0.6' : 'M-3,0H-0.75M0.75,0H3M-0.75,0L0,-0.6L0.75,0L0,0.6Z'"}}}}
          }
        }
      }
    },
    {
      "transform": [{"filter": {"field": "s", "oneOf": ["Pristine KB","5 wt% DCBQ","10 wt% DCBQ"]}}],
      "mark": {"type": "point", "filled": false, "size": 28, "strokeWidth": 1, "opacity": 1},
      "encoding": {
        "color": {"field": "s", "type": "nominal", "scale": {"domain": ["Pristine KB","5 wt% DCBQ","10 wt% DCBQ"], "range": ["#000000","#3fe020","#8540f0"]}, "legend": null},
        "shape": {"field": "s", "type": "nominal", "scale": {"domain": ["Pristine KB","5 wt% DCBQ","10 wt% DCBQ"], "range": ["circle","M-1,-1L1,1M-1,1L1,-1","diamond"]}, "legend": null}
      }
    },
    {
      "transform": [{"filter": {"field": "s", "oneOf": ["20 wt% DCBQ","40 wt% DCBQ","60.1 wt% DCBQ"]}}],
      "mark": {"type": "line", "strokeWidth": 1.4},
      "encoding": {
        "color": {
          "field": "s", "type": "nominal",
          "scale": {"domain": ["20 wt% DCBQ","40 wt% DCBQ","60.1 wt% DCBQ"], "range": ["#ff2020","#c060f0","#2255ee"]},
          "legend": {
            "title": null, "orient": "none", "legendX": 124, "legendY": 122, "symbolSize": 100, "symbolStrokeWidth": 1.3, "symbolOffset": 9, "labelOffset": 12, "rowPadding": 3.5, "labelFontSize": 12,
            "encode": {"symbols": {"update": {"fill": {"value": "transparent"}, "shape": {"signal": "datum.value === '20 wt% DCBQ' ? 'M-3,0H-0.55M0.55,0H3M-0.55,-0.55H0.55V0.55H-0.55Z' : datum.value === '40 wt% DCBQ' ? 'M-3,0H3M-0.6,-0.6L0.6,0.6M-0.6,0.6L0.6,-0.6' : 'M-3,0H-0.45M0.45,0H3M0,-0.65L0.7,0.55H-0.7Z'"}}}}
          }
        }
      }
    },
    {
      "transform": [{"filter": {"field": "s", "oneOf": ["20 wt% DCBQ","40 wt% DCBQ","60.1 wt% DCBQ"]}}],
      "mark": {"type": "point", "filled": false, "size": 28, "strokeWidth": 1, "opacity": 1},
      "encoding": {
        "color": {"field": "s", "type": "nominal", "scale": {"domain": ["20 wt% DCBQ","40 wt% DCBQ","60.1 wt% DCBQ"], "range": ["#ff2020","#c060f0","#2255ee"]}, "legend": null},
        "shape": {"field": "s", "type": "nominal", "scale": {"domain": ["20 wt% DCBQ","40 wt% DCBQ","60.1 wt% DCBQ"], "range": ["square","M-1,-1L1,1M-1,1L1,-1","triangle-up"]}, "legend": null}
      }
    }
  ],
  "resolve": {"scale": {"color": "independent", "shape": "independent"}}
},
{
  "width": 227, "height": 177,
  "title": {"text": "d)", "dx": -72, "offset": -23},
  "data": {"name": "cap"},
  "encoding": {
    "x": {"field": "j", "type": "quantitative", "scale": {"domain": [0, 5000], "nice": false},
      "axis": {"title": "Current density / mA/g", "titleFontWeight": 400, "titleY": 35, "values": [0,500,1000,1500,2000,2500,3000,3500,4000,4500,5000], "labelExpr": "datum.value % 1000 === 0 ? format(datum.value, 'd') : ''", "labelFontSize": 15, "titleFontSize": 15, "labelPadding": 9.5}},
    "y": {"field": "v", "type": "quantitative", "scale": {"domain": [0, 160], "nice": false},
      "axis": {"title": "Capacitance / F cm⁻³", "titleFontWeight": 400, "values": [0,10,20,30,40,50,60,70,80,90,100,110,120,130,140,150,160], "labelExpr": "datum.value % 50 === 0 ? format(datum.value, 'd') : ''", "labelFontSize": 15, "titleFontSize": 15, "labelPadding": 13, "titlePadding": 6}}
  },
  "layer": [
    {
      "transform": [{"filter": {"field": "s", "oneOf": ["Pristine KB","5 wt% DCBQ","10 wt% DCBQ"]}}],
      "mark": {"type": "line", "strokeWidth": 1.4},
      "encoding": {
        "color": {
          "field": "s", "type": "nominal",
          "scale": {"domain": ["Pristine KB","5 wt% DCBQ","10 wt% DCBQ"], "range": ["#000000","#3fe020","#8540f0"]},
          "legend": {
            "title": null, "orient": "none", "legendX": 18, "legendY": 69, "symbolSize": 100, "symbolStrokeWidth": 1.3, "symbolOffset": 9, "labelOffset": 12, "rowPadding": 1, "labelFontSize": 11.5,
            "encode": {"symbols": {"update": {"fill": {"value": "transparent"}, "shape": {"signal": "datum.value === 'Pristine KB' ? 'M-3,0H-0.6M0.6,0H3M-0.6,0A0.6,0.6 0 1,0 0.6,0A0.6,0.6 0 1,0 -0.6,0' : datum.value === '5 wt% DCBQ' ? 'M-3,0H3M-0.6,-0.6L0.6,0.6M-0.6,0.6L0.6,-0.6' : 'M-3,0H-0.75M0.75,0H3M-0.75,0L0,-0.6L0.75,0L0,0.6Z'"}}}}
          }
        }
      }
    },
    {
      "transform": [{"filter": {"field": "s", "oneOf": ["Pristine KB","5 wt% DCBQ","10 wt% DCBQ"]}}],
      "mark": {"type": "point", "filled": false, "size": 28, "strokeWidth": 1, "opacity": 1},
      "encoding": {
        "color": {"field": "s", "type": "nominal", "scale": {"domain": ["Pristine KB","5 wt% DCBQ","10 wt% DCBQ"], "range": ["#000000","#3fe020","#8540f0"]}, "legend": null},
        "shape": {"field": "s", "type": "nominal", "scale": {"domain": ["Pristine KB","5 wt% DCBQ","10 wt% DCBQ"], "range": ["circle","M-1,-1L1,1M-1,1L1,-1","diamond"]}, "legend": null}
      }
    },
    {
      "transform": [{"filter": {"field": "s", "oneOf": ["20 wt% DCBQ","40 wt% DCBQ","60.1 wt% DCBQ"]}}],
      "mark": {"type": "line", "strokeWidth": 1.4},
      "encoding": {
        "color": {
          "field": "s", "type": "nominal",
          "scale": {"domain": ["20 wt% DCBQ","40 wt% DCBQ","60.1 wt% DCBQ"], "range": ["#ff2020","#c060f0","#2255ee"]},
          "legend": {
            "title": null, "orient": "none", "legendX": 117, "legendY": 75.5, "symbolSize": 100, "symbolStrokeWidth": 1.3, "symbolOffset": 9, "labelOffset": 12, "rowPadding": 1.5, "labelFontSize": 11.5,
            "encode": {"symbols": {"update": {"fill": {"value": "transparent"}, "shape": {"signal": "datum.value === '20 wt% DCBQ' ? 'M-3,0H-0.55M0.55,0H3M-0.55,-0.55H0.55V0.55H-0.55Z' : datum.value === '40 wt% DCBQ' ? 'M-3,0H3M-0.6,-0.6L0.6,0.6M-0.6,0.6L0.6,-0.6' : 'M-3,0H-0.45M0.45,0H3M0,-0.65L0.7,0.55H-0.7Z'"}}}}
          }
        }
      }
    },
    {
      "transform": [{"filter": {"field": "s", "oneOf": ["20 wt% DCBQ","40 wt% DCBQ","60.1 wt% DCBQ"]}}],
      "mark": {"type": "point", "filled": false, "size": 28, "strokeWidth": 1, "opacity": 1},
      "encoding": {
        "color": {"field": "s", "type": "nominal", "scale": {"domain": ["20 wt% DCBQ","40 wt% DCBQ","60.1 wt% DCBQ"], "range": ["#ff2020","#c060f0","#2255ee"]}, "legend": null},
        "shape": {"field": "s", "type": "nominal", "scale": {"domain": ["20 wt% DCBQ","40 wt% DCBQ","60.1 wt% DCBQ"], "range": ["square","M-1,-1L1,1M-1,1L1,-1","triangle-up"]}, "legend": null}
      }
    }
  ],
  "resolve": {"scale": {"color": "independent", "shape": "independent"}}
}
]
}
